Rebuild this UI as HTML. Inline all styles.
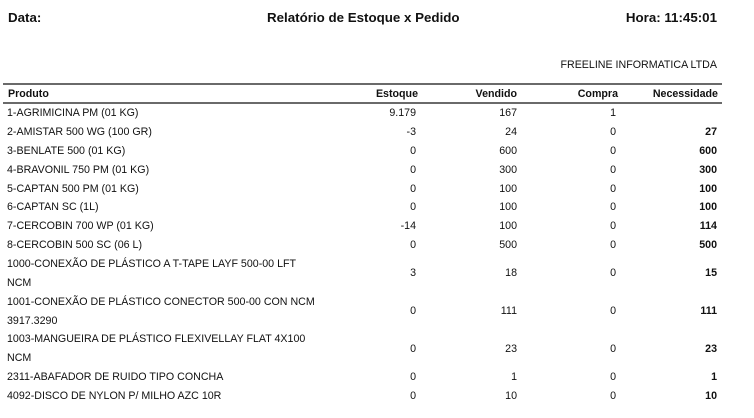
<!DOCTYPE html>
<html><head><meta charset="utf-8"><style>
html,body{margin:0;padding:0;background:#fff;}
body{width:754px;height:418px;position:relative;overflow:hidden;font-family:"Liberation Sans",Arial,sans-serif;color:#111;}
.a{position:absolute;white-space:nowrap;}
.t{font-size:13.33px;font-weight:bold;line-height:16px;}
.s{font-size:10.67px;line-height:19px;}
.b{font-weight:bold;}
.hl{position:absolute;left:3px;width:719px;height:2px;background:#6a6a6a;}
</style></head><body>
<div class="a t" style="left:8px;top:10px;">Data:</div>
<div class="a t" style="left:267px;top:10px;">Relatório de Estoque x Pedido</div>
<div class="a t" style="right:37px;top:10px;">Hora: 11:45:01</div>
<div class="a s" style="right:37px;top:56px;">FREELINE INFORMATICA LTDA</div>

<div class="hl" style="top:83px;"></div>
<div class="hl" style="top:102px;"></div>
<div class="a s b" style="left:8px;top:85px;">Produto</div>
<div class="a s b" style="right:336px;top:85px;">Estoque</div>
<div class="a s b" style="right:237px;top:85px;">Vendido</div>
<div class="a s b" style="right:136px;top:85px;">Compra</div>
<div class="a s b" style="right:36px;top:85px;">Necessidade</div>

<!-- rows -->
<div class="a s" style="left:7px;top:104px;">1-AGRIMICINA PM (01 KG)</div>
<div class="a s" style="right:338px;top:104px;">9.179</div>
<div class="a s" style="right:237px;top:104px;">167</div>
<div class="a s" style="right:138px;top:104px;">1</div>

<div class="a s" style="left:7px;top:122.9px;">2-AMISTAR 500 WG (100 GR)</div>
<div class="a s" style="right:338px;top:122.9px;">-3</div>
<div class="a s" style="right:237px;top:122.9px;">24</div>
<div class="a s" style="right:138px;top:122.9px;">0</div>
<div class="a s b" style="right:37px;top:122.9px;">27</div>

<div class="a s" style="left:7px;top:141.7px;">3-BENLATE 500 (01 KG)</div>
<div class="a s" style="right:338px;top:141.7px;">0</div>
<div class="a s" style="right:237px;top:141.7px;">600</div>
<div class="a s" style="right:138px;top:141.7px;">0</div>
<div class="a s b" style="right:37px;top:141.7px;">600</div>

<div class="a s" style="left:7px;top:160.6px;">4-BRAVONIL 750 PM (01 KG)</div>
<div class="a s" style="right:338px;top:160.6px;">0</div>
<div class="a s" style="right:237px;top:160.6px;">300</div>
<div class="a s" style="right:138px;top:160.6px;">0</div>
<div class="a s b" style="right:37px;top:160.6px;">300</div>

<div class="a s" style="left:7px;top:179.5px;">5-CAPTAN 500 PM (01 KG)</div>
<div class="a s" style="right:338px;top:179.5px;">0</div>
<div class="a s" style="right:237px;top:179.5px;">100</div>
<div class="a s" style="right:138px;top:179.5px;">0</div>
<div class="a s b" style="right:37px;top:179.5px;">100</div>

<div class="a s" style="left:7px;top:198.4px;">6-CAPTAN SC (1L)</div>
<div class="a s" style="right:338px;top:198.4px;">0</div>
<div class="a s" style="right:237px;top:198.4px;">100</div>
<div class="a s" style="right:138px;top:198.4px;">0</div>
<div class="a s b" style="right:37px;top:198.4px;">100</div>

<div class="a s" style="left:7px;top:217.2px;">7-CERCOBIN 700 WP (01 KG)</div>
<div class="a s" style="right:338px;top:217.2px;">-14</div>
<div class="a s" style="right:237px;top:217.2px;">100</div>
<div class="a s" style="right:138px;top:217.2px;">0</div>
<div class="a s b" style="right:37px;top:217.2px;">114</div>

<div class="a s" style="left:7px;top:236.1px;">8-CERCOBIN 500 SC (06 L)</div>
<div class="a s" style="right:338px;top:236.1px;">0</div>
<div class="a s" style="right:237px;top:236.1px;">500</div>
<div class="a s" style="right:138px;top:236.1px;">0</div>
<div class="a s b" style="right:37px;top:236.1px;">500</div>

<div class="a s" style="left:7px;top:255px;">1000-CONEXÃO DE PLÁSTICO A T-TAPE LAYF 500-00 LFT</div>
<div class="a s" style="left:7px;top:273.8px;">NCM</div>
<div class="a s" style="right:338px;top:264.4px;">3</div>
<div class="a s" style="right:237px;top:264.4px;">18</div>
<div class="a s" style="right:138px;top:264.4px;">0</div>
<div class="a s b" style="right:37px;top:264.4px;">15</div>

<div class="a s" style="left:7px;top:292.7px;">1001-CONEXÃO DE PLÁSTICO CONECTOR 500-00 CON NCM</div>
<div class="a s" style="left:7px;top:311.6px;">3917.3290</div>
<div class="a s" style="right:338px;top:302.1px;">0</div>
<div class="a s" style="right:237px;top:302.1px;">111</div>
<div class="a s" style="right:138px;top:302.1px;">0</div>
<div class="a s b" style="right:37px;top:302.1px;">111</div>

<div class="a s" style="left:7px;top:330.4px;">1003-MANGUEIRA DE PLÁSTICO FLEXIVELLAY FLAT 4X100</div>
<div class="a s" style="left:7px;top:349.3px;">NCM</div>
<div class="a s" style="right:338px;top:339.9px;">0</div>
<div class="a s" style="right:237px;top:339.9px;">23</div>
<div class="a s" style="right:138px;top:339.9px;">0</div>
<div class="a s b" style="right:37px;top:339.9px;">23</div>

<div class="a s" style="left:7px;top:368.2px;">2311-ABAFADOR DE RUIDO TIPO CONCHA</div>
<div class="a s" style="right:338px;top:368.2px;">0</div>
<div class="a s" style="right:237px;top:368.2px;">1</div>
<div class="a s" style="right:138px;top:368.2px;">0</div>
<div class="a s b" style="right:37px;top:368.2px;">1</div>

<div class="a s" style="left:7px;top:387.1px;">4092-DISCO DE NYLON P/ MILHO AZC 10R</div>
<div class="a s" style="right:338px;top:387.1px;">0</div>
<div class="a s" style="right:237px;top:387.1px;">10</div>
<div class="a s" style="right:138px;top:387.1px;">0</div>
<div class="a s b" style="right:37px;top:387.1px;">10</div>
</body></html>
